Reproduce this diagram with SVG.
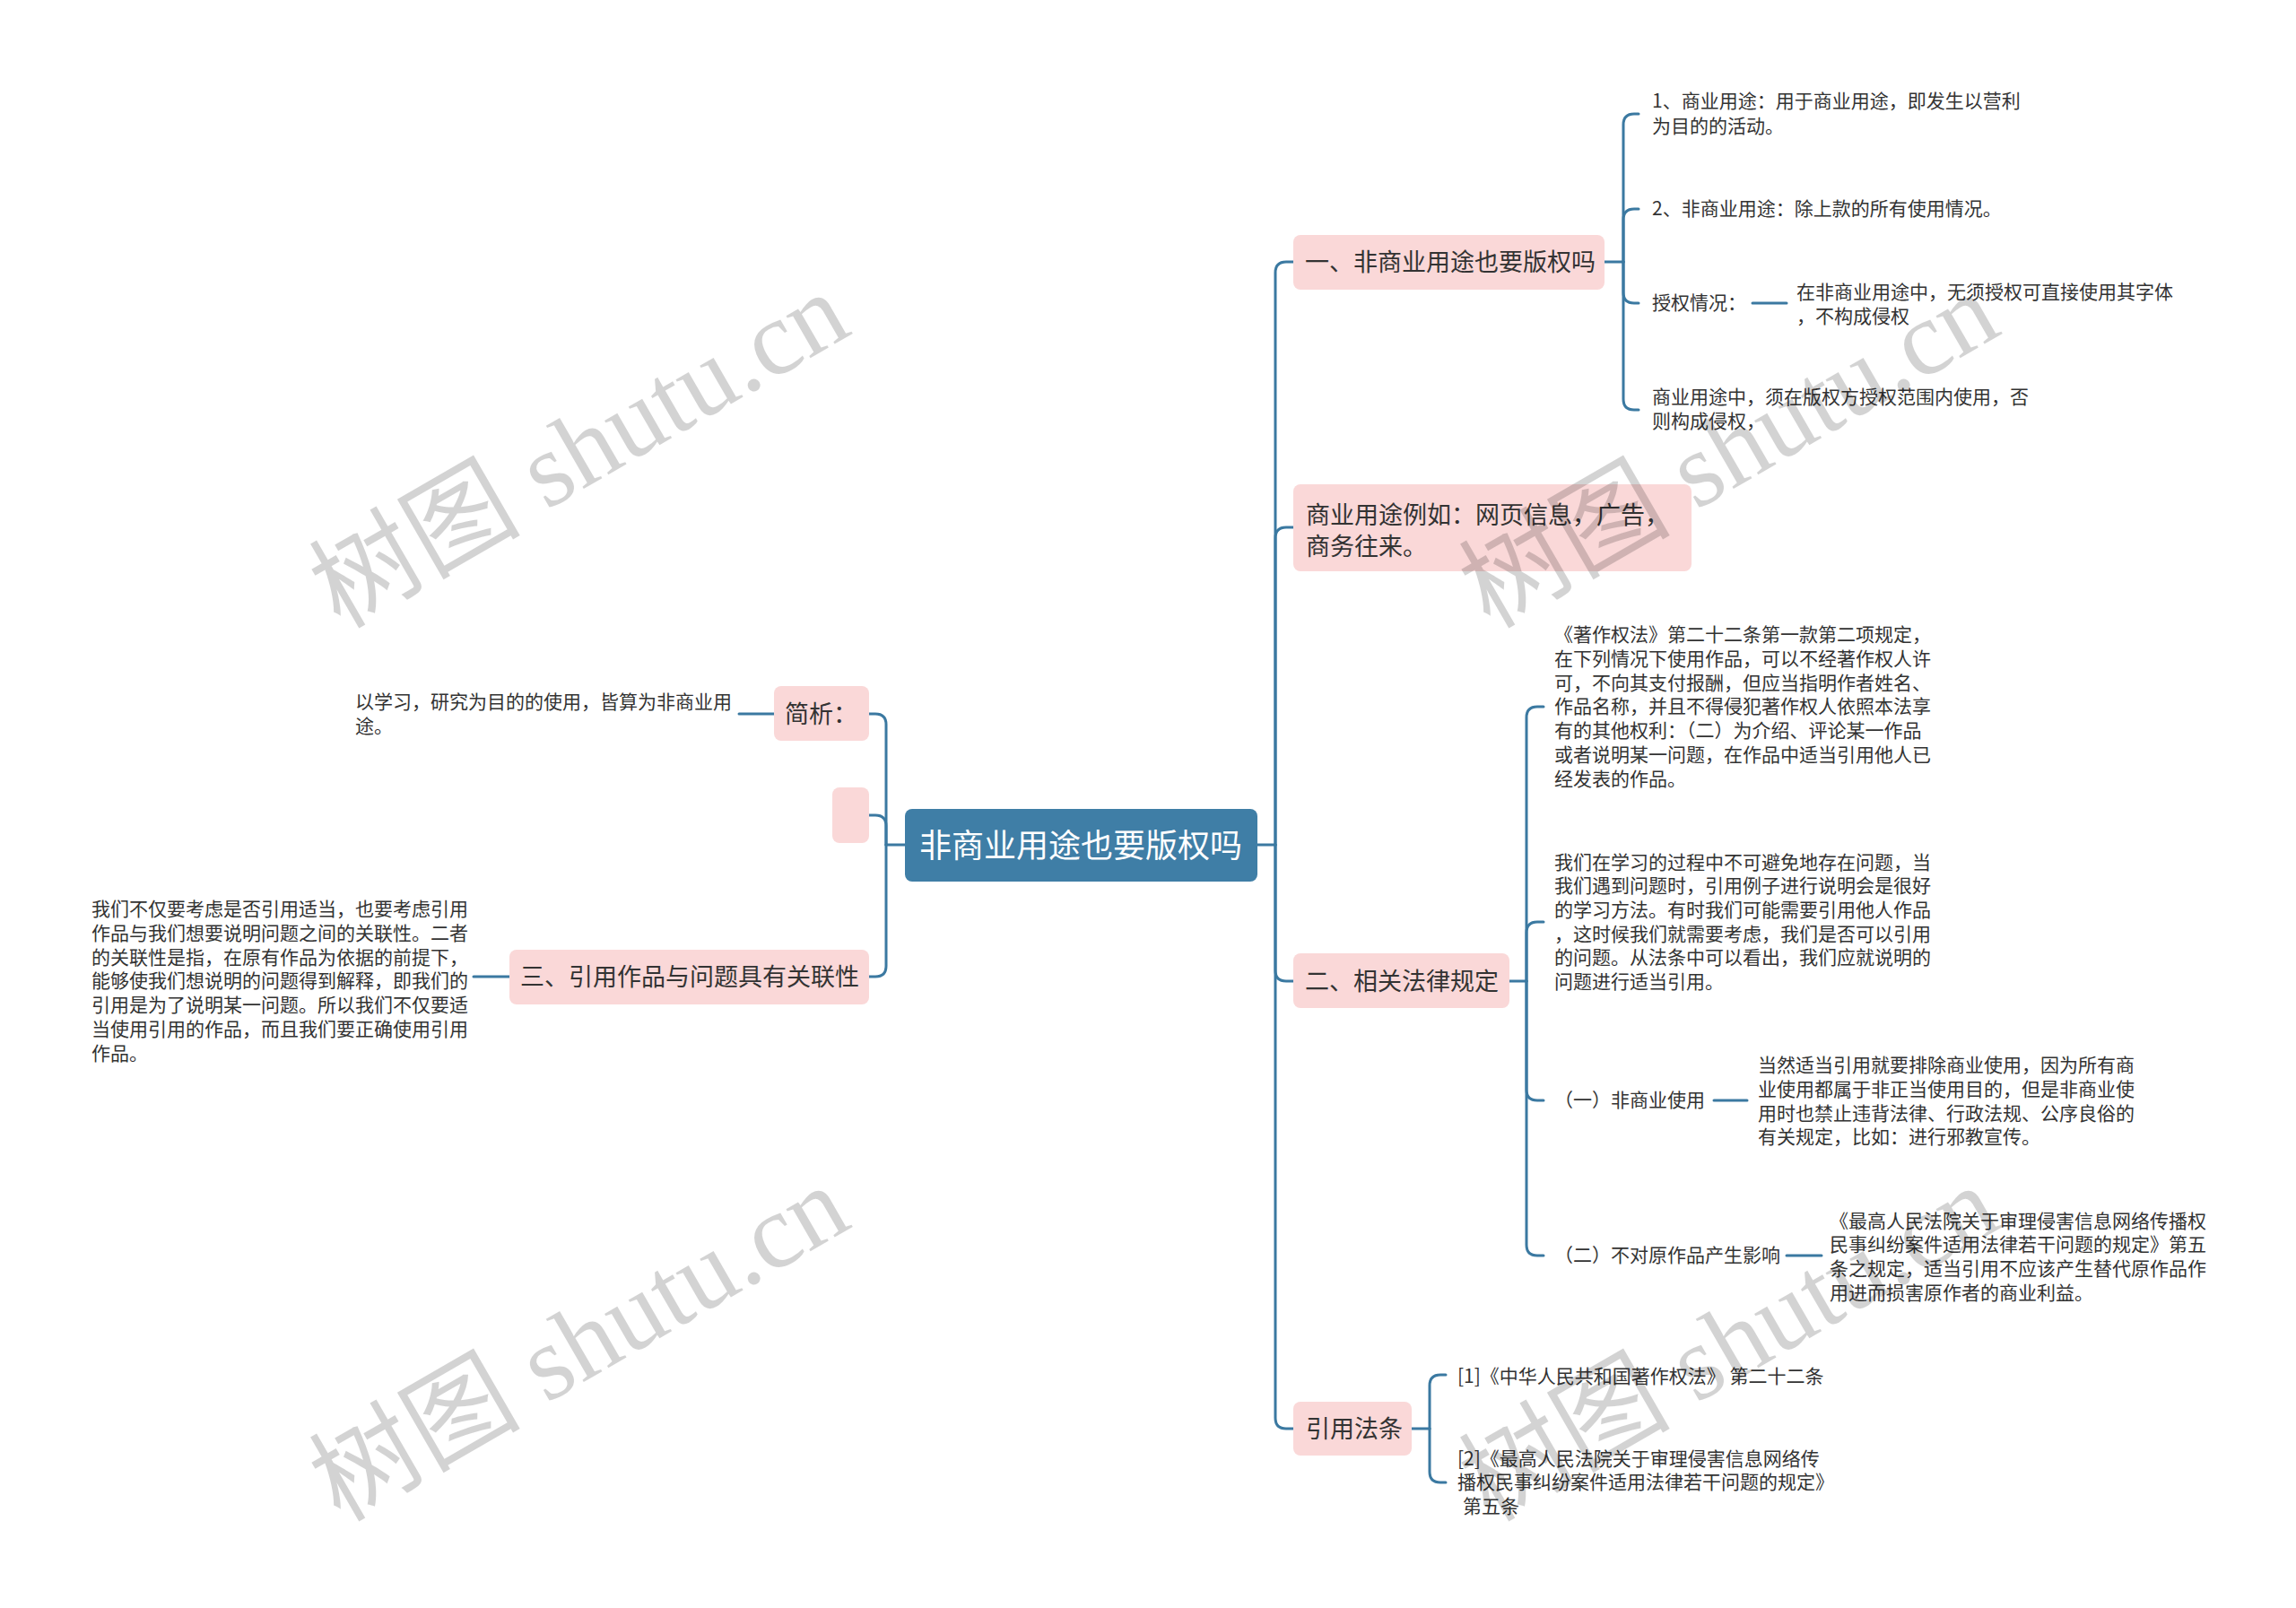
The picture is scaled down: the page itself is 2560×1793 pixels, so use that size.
<svg xmlns="http://www.w3.org/2000/svg" width="2560" height="1793" viewBox="0 0 2560 1793">
<style>
text{font-family:"Noto Sans CJK SC","Noto Sans",sans-serif;fill:#333;dominant-baseline:central}
.t,.n,.r{transform:translateY(-2px)}
.t{font-size:21px}
.n{font-size:27px}
.r{font-size:36px;fill:#fff;text-anchor:middle}
.pk{fill:#fad8d8}
.rt{fill:#3f7ea6}
.ln{fill:none;stroke:#3b79a1;stroke-width:3;stroke-linecap:round}
.wm{font-family:"Liberation Serif","Noto Sans CJK SC",serif;font-size:118px;fill:#000;opacity:0.17;dominant-baseline:auto}
</style>
<rect width="2560" height="1793" fill="#fff"/>
<g id="connectors">
<path class="ln" d="M1402 942 H1422"/>
<path class="ln" d="M1422 942 V304 Q1422 292 1434 292 H1442"/>
<path class="ln" d="M1422 942 V600 Q1422 588 1434 588 H1442"/>
<path class="ln" d="M1422 942 V1082 Q1422 1094 1434 1094 H1442"/>
<path class="ln" d="M1422 942 V1581 Q1422 1593 1434 1593 H1442"/>
<path class="ln" d="M1009 942 H988"/>
<path class="ln" d="M988 942 V808 Q988 796 976 796 H969"/>
<path class="ln" d="M988 942 V921 Q988 909 976 909 H969"/>
<path class="ln" d="M988 942 V1077 Q988 1089 976 1089 H969"/>
<path class="ln" d="M1789 292 H1810"/>
<path class="ln" d="M1810 292 V139 Q1810 127 1822 127 H1827"/>
<path class="ln" d="M1810 292 V245 Q1810 233 1822 233 H1827"/>
<path class="ln" d="M1810 292 V326 Q1810 338 1822 338 H1827"/>
<path class="ln" d="M1810 292 V445 Q1810 457 1822 457 H1827"/>
<path class="ln" d="M1954 338 H1992"/>
<path class="ln" d="M1683 1094 H1702"/>
<path class="ln" d="M1702 1094 V800 Q1702 788 1714 788 H1721"/>
<path class="ln" d="M1702 1094 V1040 Q1702 1028 1714 1028 H1721"/>
<path class="ln" d="M1702 1094 V1215 Q1702 1227 1714 1227 H1721"/>
<path class="ln" d="M1702 1094 V1388 Q1702 1400 1714 1400 H1721"/>
<path class="ln" d="M1911 1227 H1948"/>
<path class="ln" d="M1992 1400 H2031"/>
<path class="ln" d="M1574 1593 H1594"/>
<path class="ln" d="M1594 1593 V1545 Q1594 1533 1606 1533 H1612"/>
<path class="ln" d="M1594 1593 V1641 Q1594 1653 1606 1653 H1612"/>
<path class="ln" d="M824 796 H863"/>
<path class="ln" d="M528 1089 H568"/>
</g>
<g id="root">
<rect class="rt" x="1009" y="902" width="393" height="81" rx="8"/>
<text class="r" x="1205" y="942">非商业用途也要版权吗</text>
</g>
<g id="n1">
<rect class="pk" x="1442" y="262" width="347" height="61" rx="8"/>
<text class="n" x="1455" y="292">一、非商业用途也要版权吗</text>
</g>
<g id="n1a"><text class="t"><tspan x="1842" y="113">1、商业用途：用于商业用途，即发生以营利</tspan><tspan x="1842" y="141">为目的的活动。</tspan></text></g>
<g id="n1b"><text class="t" x="1842" y="233">2、非商业用途：除上款的所有使用情况。</text></g>
<g id="n1c"><text class="t" x="1842" y="338">授权情况：</text></g>
<g id="n1c1"><text class="t"><tspan x="2003" y="326">在非商业用途中，无须授权可直接使用其字体</tspan><tspan x="2003" y="353">，不构成侵权</tspan></text></g>
<g id="n1d"><text class="t"><tspan x="1842" y="443">商业用途中，须在版权方授权范围内使用，否</tspan><tspan x="1842" y="470">则构成侵权，</tspan></text></g>
<g id="n2">
<rect class="pk" x="1442" y="540" width="444" height="97" rx="8"/>
<text class="n"><tspan x="1456" y="574">商业用途例如：网页信息，广告，</tspan><tspan x="1456" y="609">商务往来。</tspan></text>
</g>
<g id="n3">
<rect class="pk" x="1442" y="1063" width="241" height="61" rx="8"/>
<text class="n" x="1455" y="1094">二、相关法律规定</text>
</g>
<g id="n3a"><text class="t"><tspan x="1733" y="708">《著作权法》第二十二条第一款第二项规定，</tspan><tspan x="1733" y="735">在下列情况下使用作品，可以不经著作权人许</tspan><tspan x="1733" y="762">可，不向其支付报酬，但应当指明作者姓名、</tspan><tspan x="1733" y="788">作品名称，并且不得侵犯著作权人依照本法享</tspan><tspan x="1733" y="815">有的其他权利：（二）为介绍、评论某一作品</tspan><tspan x="1733" y="842">或者说明某一问题，在作品中适当引用他人已</tspan><tspan x="1733" y="869">经发表的作品。</tspan></text></g>
<g id="n3b"><text class="t"><tspan x="1733" y="962">我们在学习的过程中不可避免地存在问题，当</tspan><tspan x="1733" y="988">我们遇到问题时，引用例子进行说明会是很好</tspan><tspan x="1733" y="1015">的学习方法。有时我们可能需要引用他人作品</tspan><tspan x="1733" y="1042">，这时候我们就需要考虑，我们是否可以引用</tspan><tspan x="1733" y="1068">的问题。从法条中可以看出，我们应就说明的</tspan><tspan x="1733" y="1095">问题进行适当引用。</tspan></text></g>
<g id="n3c"><text class="t" x="1733" y="1227">（一）非商业使用</text></g>
<g id="n3c1"><text class="t"><tspan x="1960" y="1188">当然适当引用就要排除商业使用，因为所有商</tspan><tspan x="1960" y="1215">业使用都属于非正当使用目的，但是非商业使</tspan><tspan x="1960" y="1242">用时也禁止违背法律、行政法规、公序良俗的</tspan><tspan x="1960" y="1268">有关规定，比如：进行邪教宣传。</tspan></text></g>
<g id="n3d"><text class="t" x="1733" y="1400">（二）不对原作品产生影响</text></g>
<g id="n3d1"><text class="t"><tspan x="2040" y="1362">《最高人民法院关于审理侵害信息网络传播权</tspan><tspan x="2040" y="1388">民事纠纷案件适用法律若干问题的规定》第五</tspan><tspan x="2040" y="1415">条之规定，适当引用不应该产生替代原作品作</tspan><tspan x="2040" y="1442">用进而损害原作者的商业利益。</tspan></text></g>
<g id="n4">
<rect class="pk" x="1442" y="1563" width="132" height="60" rx="8"/>
<text class="n" x="1456" y="1593">引用法条</text>
</g>
<g id="n4a"><text class="t" x="1625" y="1535">[1]《中华人民共和国著作权法》 第二十二条</text></g>
<g id="n4b"><text class="t"><tspan x="1625" y="1627">[2]《最高人民法院关于审理侵害信息网络传</tspan><tspan x="1625" y="1653">播权民事纠纷案件适用法律若干问题的规定》</tspan><tspan x="1631" y="1680">第五条</tspan></text></g>
<g id="l1">
<rect class="pk" x="863" y="765" width="106" height="61" rx="8"/>
<text class="n" x="875" y="796">简析：</text>
</g>
<g id="l1a"><text class="t"><tspan x="396" y="783">以学习，研究为目的的使用，皆算为非商业用</tspan><tspan x="396" y="810">途。</tspan></text></g>
<g id="l2">
<rect class="pk" x="928" y="878" width="41" height="62" rx="8"/>
</g>
<g id="l3">
<rect class="pk" x="568" y="1059" width="401" height="61" rx="8"/>
<text class="n" x="580" y="1089">三、引用作品与问题具有关联性</text>
</g>
<g id="l3a"><text class="t"><tspan x="102" y="1014">我们不仅要考虑是否引用适当，也要考虑引用</tspan><tspan x="102" y="1041">作品与我们想要说明问题之间的关联性。二者</tspan><tspan x="102" y="1068">的关联性是指，在原有作品为依据的前提下，</tspan><tspan x="102" y="1094">能够使我们想说明的问题得到解释，即我们的</tspan><tspan x="102" y="1121">引用是为了说明某一问题。所以我们不仅要适</tspan><tspan x="102" y="1148">当使用引用的作品，而且我们要正确使用引用</tspan><tspan x="102" y="1175">作品。</tspan></text></g>
<g id="watermarks">
<text class="wm" x="379" y="702" transform="rotate(-30 379 702)">树图 shutu.cn</text>
<text class="wm" x="1661" y="702" transform="rotate(-30 1661 702)">树图 shutu.cn</text>
<text class="wm" x="379" y="1698" transform="rotate(-30 379 1698)">树图 shutu.cn</text>
<text class="wm" x="1661" y="1698" transform="rotate(-30 1661 1698)">树图 shutu.cn</text>
</g>
</svg>
